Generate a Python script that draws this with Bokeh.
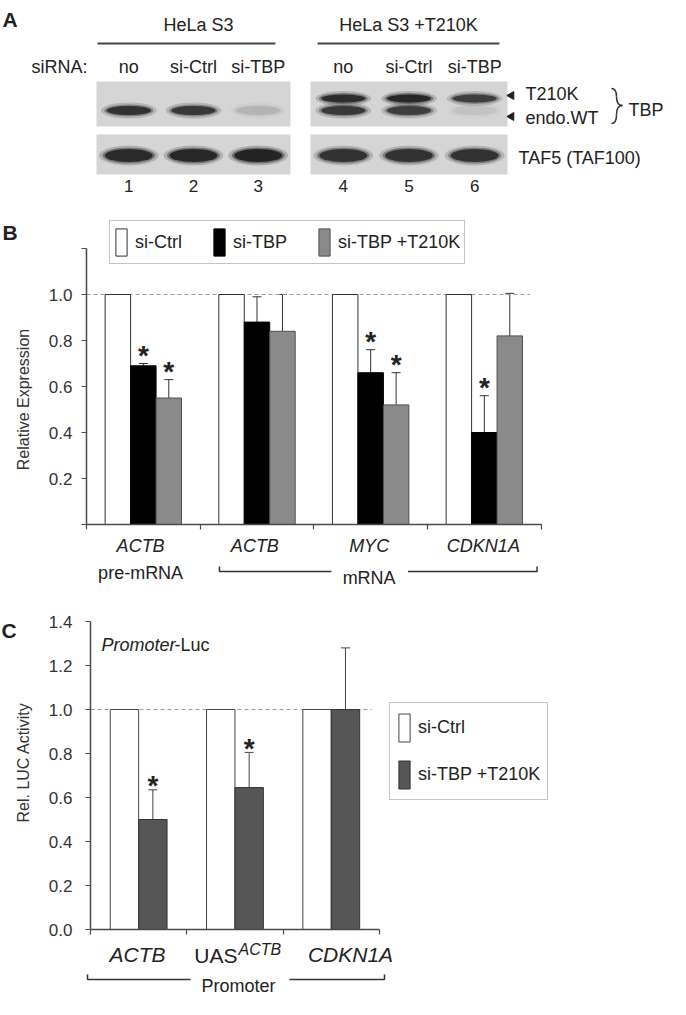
import math
import numpy as np
from bokeh.plotting import figure
from bokeh.models import (Range1d, FixedTicker, Legend, LegendItem, ColumnDataSource,
                          Whisker, TeeHead, PrintfTickFormatter)
from bokeh.layouts import column, row
from bokeh.embed import file_html
from bokeh.resources import INLINE
from bokeh.core.properties import value

FONT = "Liberation Sans"

# ---------------- data ----------------
# Panel A: western blot, relative band intensities
cell_lines = ["HeLa S3", "HeLa S3 +T210K"]
sirna_labels = ["no", "si-Ctrl", "si-TBP", "no", "si-Ctrl", "si-TBP"]
lane_numbers = ["1", "2", "3", "4", "5", "6"]
band_t210k = [0.0, 0.0, 0.0, 0.90, 0.95, 0.75]
band_endo_wt = [0.85, 0.80, 0.12, 0.80, 0.75, 0.06]
band_taf5 = [0.92, 0.95, 1.00, 0.85, 0.85, 0.85]

# Panel B: relative expression
b_genes = ["ACTB", "ACTB", "MYC", "CDKN1A"]
b_sublabels = ["pre-mRNA", "", "", ""]
b_ctrl = [1.0, 1.0, 1.0, 1.0]
b_si_tbp = [0.69, 0.88, 0.66, 0.40]
b_si_tbp_err = [0.01, 0.11, 0.10, 0.16]
b_si_tbp_t210k = [0.55, 0.84, 0.52, 0.82]
b_si_tbp_t210k_err = [0.08, 0.16, 0.14, 0.185]
b_sig_si_tbp = [True, False, True, True]
b_sig_si_tbp_t210k = [True, False, True, False]
b_yticks = [0.2, 0.4, 0.6, 0.8, 1.0]
b_yticks_unlabelled = [0.0, 1.2]

# Panel C: promoter-luciferase activity
c_promoters = ["ACTB", "UAS", "CDKN1A"]
c_ctrl = [1.0, 1.0, 1.0]
c_t210k = [0.50, 0.645, 1.00]
c_t210k_err = [0.135, 0.16, 0.28]
c_sig = [True, True, False]
c_yticks = [0.0, 0.2, 0.4, 0.6, 0.8, 1.0, 1.2, 1.4]

REF_LEVEL = 1.0

# ---------------- layout constants (page pixels) ----------------
W = 670
TXT = "#222222"
AXC = "#4a4a4a"
STRIP = 45


def tstyle(size="18px", **kw):
    d = dict(text_font=value(FONT), text_font_size=size, text_color=TXT,
             text_align="center", text_baseline="middle")
    d.update(kw)
    return d


def pixel_fig(x0, x1, y0, y1, frame_y1=None):
    """Figure whose data coordinates are page pixels (y negated)."""
    fy1 = y1 if frame_y1 is None else frame_y1
    f = figure(width=x1 - x0, height=y1 - y0, x_range=Range1d(x0, x1), y_range=Range1d(-fy1, -y0),
               x_axis_type=None, y_axis_type=None, output_backend="svg", toolbar_location=None,
               min_border_left=0, min_border_right=0, min_border_top=0,
               min_border_bottom=y1 - fy1)
    f.grid.visible = False
    f.outline_line_color = None
    return f


def strip_fig(y0, y1, axis_x, gpx):
    """Full-width figure below a chart, sharing that chart's horizontal scale."""
    f = figure(width=W, height=y1 - y0,
               x_range=Range1d(-(axis_x - 8) / gpx, (W + 8 - axis_x) / gpx),
               y_range=Range1d(-y1, -y0), x_axis_type=None, y_axis_type=None,
               output_backend="svg", toolbar_location=None, min_border=0)
    f.grid.visible = False
    f.outline_line_color = None
    return f


def style_axes(p, n_groups, yticks, yminor, standoff=9):
    for ax in (p.xaxis, p.yaxis):
        ax.axis_line_color = AXC
        ax.axis_line_width = 1.5
        for kind in ("major", "minor"):
            setattr(ax, kind + "_tick_line_color", AXC)
            setattr(ax, kind + "_tick_line_width", 1.2)
            setattr(ax, kind + "_tick_out", 5)
            setattr(ax, kind + "_tick_in", 0)
        ax.major_label_text_font = FONT
        ax.major_label_text_color = "#333333"
        ax.major_label_text_font_size = "17px"
    # group separators: unlabelled ticks only
    p.xaxis.ticker = FixedTicker(ticks=[], minor_ticks=list(range(n_groups + 1)))
    p.xaxis.bounds = (0, n_groups)
    p.yaxis.ticker = FixedTicker(ticks=yticks, minor_ticks=yminor)
    p.yaxis.bounds = (0, max(yticks + yminor))
    p.yaxis.major_label_standoff = standoff
    p.yaxis.formatter = PrintfTickFormatter(format="%.1f")
    p.grid.visible = False
    p.outline_line_color = None


# ======================= Panel A (page y 8..222) =======================
pa = pixel_fig(8, 678, 8, 222)
blot_x = [(104, 298), (318, 515)]
row_tbp = (89, 134)
row_taf = (142, 182)
pa.quad(left=[b[0] for b in blot_x] * 2, right=[b[1] for b in blot_x] * 2,
        top=[-row_tbp[0]] * 2 + [-row_taf[0]] * 2, bottom=[-row_tbp[1]] * 2 + [-row_taf[1]] * 2,
        fill_color="#d5d5d5", line_color=None)

lane_x = []
for (l, r) in blot_x:
    for i in range(3):
        lane_x.append(l + (r - l) * (i + 0.5) / 3)


def draw_bands(xs, y, intens, w, h):
    a = np.array(intens)
    src = ColumnDataSource(dict(x=xs, y=[-y] * len(xs), a0=a * 0.2, a1=a * 0.4, a2=a * 0.85))
    for (dw, dh, col) in [(12, 7, "a0"), (5, 3, "a1"), (0, 0, "a2")]:
        pa.ellipse(x="x", y="y", width=w + dw, height=h + dh, source=src,
                   fill_color="#151515", fill_alpha=col, line_color=None)


draw_bands(lane_x, 106, band_t210k, 44, 8)
draw_bands(lane_x, 118, band_endo_wt, 44, 9)
draw_bands(lane_x, 163, band_taf5, 48, 13)

pa.text(x=[10], y=[-27], text=["A"], **tstyle("21px", text_font_style="bold", text_align="left"))
pa.text(x=[206, 416], y=[-32, -32], text=cell_lines, **tstyle())
pa.segment(x0=[105, 325], y0=[-51, -51], x1=[283, 507], y1=[-51, -51], line_color="#444444",
           line_width=2)
pa.text(x=[95], y=[-74], text=["siRNA:"], **tstyle(text_align="right"))
pa.text(x=lane_x, y=[-74] * 6, text=sirna_labels, **tstyle())
pa.text(x=lane_x, y=[-193] * 6, text=lane_numbers, **tstyle("17px"))
pa.scatter(x=[519, 519], y=[-103, -124], marker="triangle", angle=math.pi / 2, size=8,
           color="#222222")
pa.text(x=[533, 533], y=[-101, -125], text=["T210K", "endo.WT"], **tstyle(text_align="left"))
# curly brace grouping the two TBP bands
pa.bezier(x0=[619, 624, 630, 624], y0=[-96, -104, -113, -122],
          x1=[624, 630, 624, 619], y1=[-104, -113, -122, -131],
          cx0=[623, 624, 626, 624], cy0=[-96, -110, -113, -127],
          cx1=[624, 626, 624, 623], cy1=[-99, -113, -116, -131],
          line_color="#333333", line_width=1.5)
pa.text(x=[636], y=[-117], text=["TBP"], **tstyle(text_align="left"))
pa.text(x=[526], y=[-165], text=["TAF5 (TAF100)"], **tstyle(text_align="left"))

# ======================= Panel B (page y 222..612) =======================
B_TOP, B_BASE, B_BOT = 222, 532, 544
B_AXIS_X = 91
b_gpx, b_upx = 114.25, 230.0
pb_w = W - STRIP
pb_mbl = B_AXIS_X - 8 - STRIP
pb = figure(width=pb_w, height=B_BOT - B_TOP, x_range=Range1d(0, (pb_w - pb_mbl) / b_gpx),
            y_range=Range1d(0, (B_BASE - B_TOP) / b_upx), output_backend="svg",
            toolbar_location=None, min_border_left=pb_mbl, min_border_right=0,
            min_border_top=0, min_border_bottom=B_BOT - B_BASE)

gx = np.arange(len(b_genes)) + 0.5
bw = 0.224
pb.line(x=[0, len(b_genes) - 0.1], y=[REF_LEVEL, REF_LEVEL], line_color="#9a9a9a",
        line_dash="4 3", line_width=1.2)
r_ctrl = pb.vbar(x=gx - bw, top=b_ctrl, width=bw, fill_color="white", line_color="#333333",
                 line_width=1)
r_tbp = pb.vbar(x=gx, top=b_si_tbp, width=bw, fill_color="black", line_color="black", line_width=1)
r_t2 = pb.vbar(x=gx + bw, top=b_si_tbp_t210k, width=bw, fill_color="#8a8a8a", line_color="#505050",
               line_width=1)

for xs, tops, errs, sig in [(gx, b_si_tbp, b_si_tbp_err, b_sig_si_tbp),
                            (gx + bw, b_si_tbp_t210k, b_si_tbp_t210k_err, b_sig_si_tbp_t210k)]:
    up = np.add(tops, errs)
    src = ColumnDataSource(dict(base=xs, lower=tops, upper=up))
    pb.add_layout(Whisker(source=src, base="base", lower="lower", upper="upper", dimension="height",
                          lower_head=None,
                          upper_head=TeeHead(size=9, line_color="#333333", line_width=1),
                          line_color="#333333", line_width=1))
    sx = [x for x, s in zip(xs, sig) if s]
    sy = [u + 8 / b_upx for u, s in zip(up, sig) if s]
    pb.text(x=sx, y=sy, text=["*"] * len(sx), **tstyle("28px", text_font_style="bold"))

style_axes(pb, len(b_genes), b_yticks, b_yticks_unlabelled)

pb.add_layout(Legend(items=[LegendItem(label="si-Ctrl", renderers=[r_ctrl]),
                            LegendItem(label="si-TBP", renderers=[r_tbp]),
                            LegendItem(label="si-TBP +T210K", renderers=[r_t2])],
                     orientation="horizontal", location=(114 - B_AXIS_X, B_BASE - 272),
                     glyph_width=14, glyph_height=34, label_text_font=FONT,
                     label_text_font_size="18px", label_text_color=TXT, label_standoff=7,
                     spacing=30, padding=4, margin=0, border_line_color="#8a8a8a",
                     border_line_width=1.5))

pbl = pixel_fig(8, 8 + STRIP, B_TOP, B_BOT, frame_y1=B_BASE)
pbl.text(x=[10], y=[-240], text=["B"], **tstyle("21px", text_font_style="bold", text_align="left"))
pbl.text(x=[31], y=[-407], text=["Relative Expression"], angle=math.pi / 2,
         **tstyle("16px", text_color="#333333"))

# labels below panel B (page y 544..612), same horizontal scale as panel B
pbb = strip_fig(B_BOT, 612, B_AXIS_X, b_gpx)
pbb.text(x=gx, y=[-553] * len(gx), text=b_genes, **tstyle(text_font_style="italic"))
sub_x = [x for x, s in zip(gx, b_sublabels) if s]
pbb.text(x=sub_x, y=[-580] * len(sub_x), text=[s for s in b_sublabels if s], **tstyle())
pbb.text(x=[gx[1:].mean()], y=[-585], text=["mRNA"], **tstyle())
pbb.multi_line(xs=[[1.19, 1.19, 2.17], [2.84, 3.97, 3.97]],
               ys=[[-574, -579, -579], [-579, -579, -574]], line_color="#333333", line_width=1.5)

# ======================= Panel C (page y 612..1007) =======================
C_TOP, C_BASE, C_BOT = 612, 937, 947
C_AXIS_X = 95
c_gpx, c_upx = 96.8, 220.0
pc_mbl = C_AXIS_X - 8 - STRIP
pc = figure(width=pb_w, height=C_BOT - C_TOP, x_range=Range1d(0, (pb_w - pc_mbl) / c_gpx),
            y_range=Range1d(0, (C_BASE - C_TOP) / c_upx), output_backend="svg",
            toolbar_location=None, min_border_left=pc_mbl, min_border_right=0,
            min_border_top=0, min_border_bottom=C_BOT - C_BASE)

hx = np.arange(len(c_promoters)) + 0.5
cw = 0.295
pc.line(x=[0, len(c_promoters) - 0.08], y=[REF_LEVEL, REF_LEVEL], line_color="#9a9a9a",
        line_dash="4 3", line_width=1.2)
c_r1 = pc.vbar(x=hx - cw / 2, top=c_ctrl, width=cw, fill_color="white", line_color="#444444",
               line_width=1)
c_r2 = pc.vbar(x=hx + cw / 2, top=c_t210k, width=cw, fill_color="#565656", line_color="#333333",
               line_width=1)
c_up = np.add(c_t210k, c_t210k_err)
pc.add_layout(Whisker(source=ColumnDataSource(dict(base=hx + cw / 2, lower=c_t210k, upper=c_up)),
                      base="base", lower="lower", upper="upper", dimension="height", lower_head=None,
                      upper_head=TeeHead(size=9, line_color="#444444", line_width=1),
                      line_color="#444444", line_width=1))
sx = [x for x, s in zip(hx + cw / 2, c_sig) if s]
sy = [u + 4 / c_upx for u, s in zip(c_up, c_sig) if s]
pc.text(x=sx, y=sy, text=["*"] * len(sx), **tstyle("28px", text_font_style="bold"))
pc.text(x=[(106 - C_AXIS_X) / c_gpx], y=[(C_BASE - 652) / c_upx], text=["Promoter"],
        **tstyle(text_font_style="italic", text_align="left"))
pc.text(x=[(106 - C_AXIS_X) / c_gpx], y=[(C_BASE - 652) / c_upx], x_offset=73, text=["-Luc"],
        **tstyle(text_align="left"))

style_axes(pc, len(c_promoters), c_yticks, [], standoff=13)

pc.add_layout(Legend(items=[LegendItem(label="si-Ctrl", renderers=[c_r1]),
                            LegendItem(label="si-TBP +T210K", renderers=[c_r2])],
                     orientation="vertical", location=(394 - C_AXIS_X, C_BASE - 808),
                     glyph_width=14, glyph_height=35, label_text_font=FONT,
                     label_text_font_size="18px", label_text_color=TXT, label_standoff=7,
                     spacing=12, padding=7, margin=0, border_line_color="#8a8a8a",
                     border_line_width=1.5))

pcl = pixel_fig(8, 8 + STRIP, C_TOP, C_BOT, frame_y1=C_BASE)
pcl.text(x=[9], y=[-638], text=["C"], **tstyle("21px", text_font_style="bold", text_align="left"))
pcl.text(x=[31], y=[-770], text=["Rel. LUC Activity"], angle=math.pi / 2,
         **tstyle("16px", text_color="#333333"))

pcb = strip_fig(C_BOT, 1007, C_AXIS_X, c_gpx)


def cxp(px):
    return (px - C_AXIS_X) / c_gpx


pcb.text(x=[cxp(145)], y=[-962], text=[c_promoters[0]], **tstyle("21px", text_font_style="italic"))
pcb.text(x=[cxp(245)], y=[-963], text=[c_promoters[1]], **tstyle("21px", text_align="right"))
pcb.text(x=[cxp(246)], y=[-957], text=[c_promoters[0]],
         **tstyle("16px", text_font_style="italic", text_align="left"))
pcb.text(x=[cxp(358)], y=[-962], text=[c_promoters[2]], **tstyle("21px", text_font_style="italic"))
pcb.text(x=[cxp(246)], y=[-993], text=["Promoter"], **tstyle())
pcb.multi_line(xs=[[0, 0, cxp(198)], [cxp(297), cxp(392), cxp(392)]],
               ys=[[-982, -987, -987], [-987, -987, -982]], line_color="#333333", line_width=1.5)

for f in (pa, pb, pbl, pbb, pc, pcl, pcb):
    f.background_fill_color = "white"
    f.border_fill_color = "white"

layout = column(row(pa, spacing=0), row(pbl, pb, spacing=0), row(pbb, spacing=0),
                row(pcl, pc, spacing=0), row(pcb, spacing=0), spacing=0)
open("out.html", "w").write(file_html(layout, INLINE))
